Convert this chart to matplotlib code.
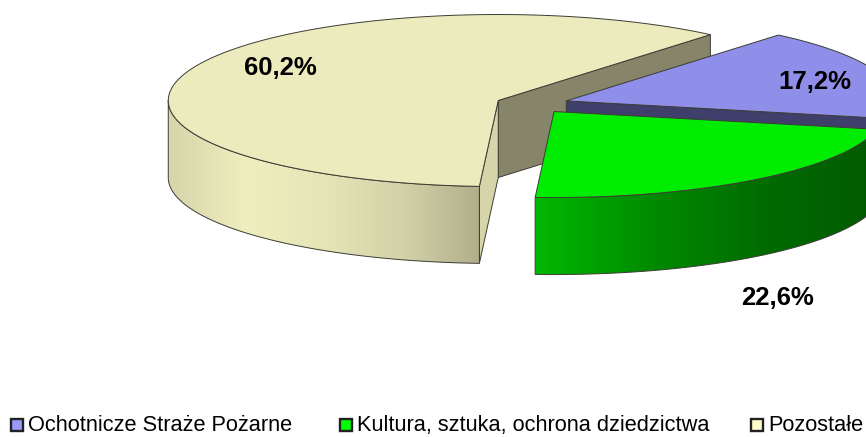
import matplotlib
matplotlib.use('Agg')
import matplotlib.pyplot as plt
import numpy as np
from matplotlib.colors import LinearSegmentedColormap
from matplotlib.patches import Polygon, Rectangle

plt.rcParams['font.family'] = ['Liberation Sans', 'DejaVu Sans']

categories = ['Ochotnicze Straże Pożarne', 'Kultura, sztuka, ochrona dziedzictwa', 'Pozostałe']
values = [17.2, 22.6, 60.2]
labels = ['17,2%', '22,6%', '60,2%']

legend_colors = ['#9999ff', '#00ff00', '#ffffcc']
top_colors = ['#8f8fea', '#00ec00', '#ecebbd']
cut_colors = ['#3f3f6c', '#006000', '#868469']
side_colors = [
    ['#33335a', '#2a2a50'],
    ['#00b800', '#008c00', '#006c00', '#005a00'],
    ['#d6d5ab', '#efeebe', '#e6e5b8', '#d3d2a8', '#b0af8b'],
]

# pie geometry, in pixels
cx, cy = 532, 104
rx, ry = 330, 86
depth = 77
explode = 0.11
start_angle = 50
edge = '#3c3c34'

label_xy = [(815, 82), (777, 298), (280, 68)]
legend_x = [10, 339, 750]

fig = plt.figure(figsize=(8.66, 4.37), dpi=100)
ax = fig.add_axes([0, 0, 1, 1])


def arc(x0, y0, a1, a2, n=120):
    t = np.radians(np.linspace(a1, a2, n))
    return np.column_stack([x0 + rx * np.cos(t), y0 - ry * np.sin(t)])


def draw_side(x0, y0, a1, a2, colors, z):
    # outer wall, only the part that faces the viewer
    a1, a2 = max(a1, 180), min(a2, 360)
    if a2 <= a1:
        return
    top = arc(x0, y0, a1, a2)
    pts = np.vstack([top, (top + [0, depth])[::-1]])
    cmap = LinearSegmentedColormap.from_list('side', colors)
    img = ax.imshow(np.linspace(0, 1, 256)[None, :], cmap=cmap, aspect='auto', zorder=z,
                    extent=[pts[:, 0].min(), pts[:, 0].max(), pts[:, 1].max(), pts[:, 1].min()])
    poly = Polygon(pts, closed=True, facecolor='none', edgecolor=edge, linewidth=0.7, zorder=z + 0.1)
    ax.add_patch(poly)
    img.set_clip_path(poly)


def draw_cut(x0, y0, a, color, z):
    # flat face left by the pulled out slice
    p = arc(x0, y0, a, a, 1)[0]
    pts = [(x0, y0), tuple(p), (p[0], p[1] + depth), (x0, y0 + depth)]
    ax.add_patch(Polygon(pts, closed=True, facecolor=color, edgecolor=edge, linewidth=0.7, zorder=z))


# slices run clockwise from the start angle
spans = np.array(values) / sum(values) * 360
ends = start_angle - np.cumsum(spans)
starts = ends + spans
mids = (starts + ends) / 2
x0s = cx + explode * rx * np.cos(np.radians(mids))
y0s = cy - explode * ry * np.sin(np.radians(mids))

# back to front: yellow, blue, green
for i, z in zip([2, 0, 1], [10, 20, 30]):
    a1, a2 = ends[i] % 360, (ends[i] % 360) + spans[i]
    if i == 2:
        draw_cut(x0s[i], y0s[i], a1, cut_colors[i], z)
        draw_cut(x0s[i], y0s[i], a2, '#d6d5a9', z + 1)
    elif i == 0:
        draw_cut(x0s[i], y0s[i], a1, cut_colors[i], z)
    draw_side(x0s[i], y0s[i], a1, a2, side_colors[i], z + 2)
    pts = np.vstack([[x0s[i], y0s[i]], arc(x0s[i], y0s[i], a1, a2)])
    ax.add_patch(Polygon(pts, closed=True, facecolor=top_colors[i], edgecolor=edge, linewidth=0.7, zorder=z + 3))

for lab, (x, y) in zip(labels, label_xy):
    ax.text(x, y, lab, fontsize=18.5, fontweight='bold', ha='center', va='center', color='black', zorder=50)

for name, col, x in zip(categories, legend_colors, legend_x):
    ax.add_patch(Rectangle((x + 1, 418.5), 12, 12, facecolor=col, edgecolor='#222222', linewidth=1.7, zorder=50))
    ax.text(x + 18, 431, name, fontsize=15.65, ha='left', va='baseline', color='black', zorder=50)

ax.set_xlim(0, 866)
ax.set_ylim(437, 0)
ax.axis('off')
fig.savefig('out.png', dpi=100, facecolor='white')
